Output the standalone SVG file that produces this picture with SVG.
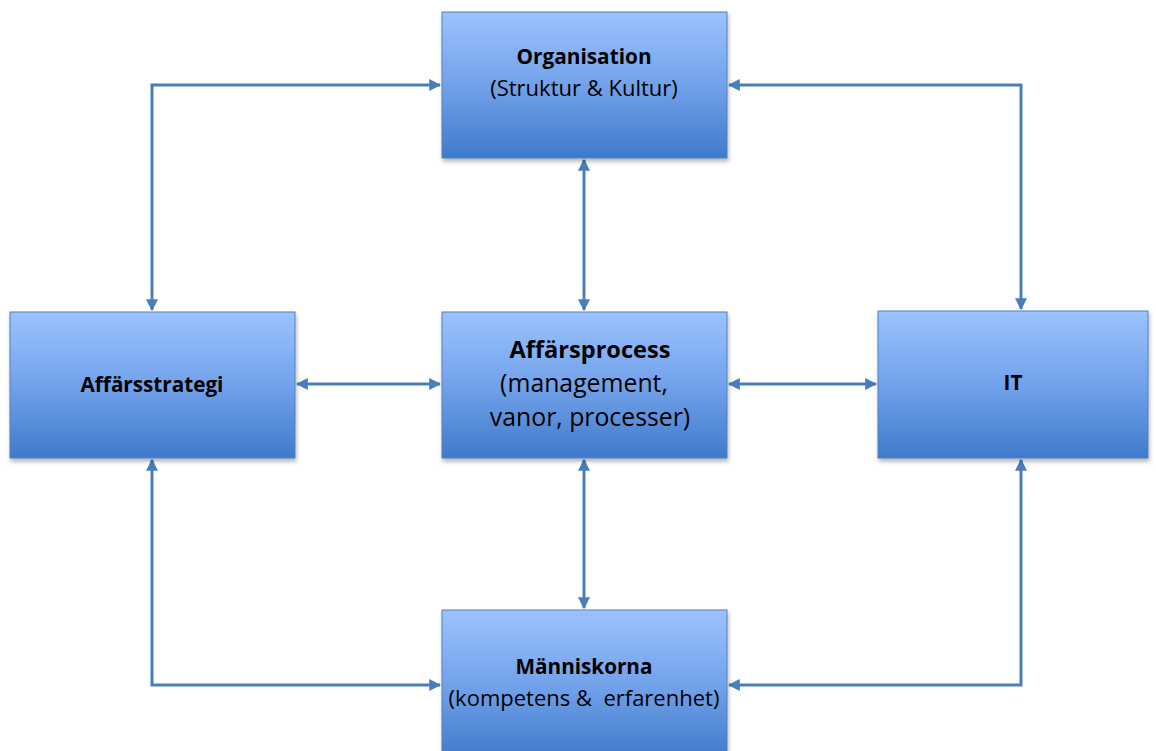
<svg xmlns="http://www.w3.org/2000/svg" width="1156" height="751" viewBox="0 0 1156 751">
<defs>
<linearGradient id="g" x1="0" y1="0" x2="0" y2="1">
<stop offset="0" stop-color="#9cc2ff"/>
<stop offset="0.5" stop-color="#72a2ea"/>
<stop offset="1" stop-color="#3f7acb"/>
</linearGradient>
<filter id="sh" x="-10%" y="-10%" width="120%" height="130%">
<feDropShadow dx="1" dy="3" stdDeviation="2" flood-color="#000" flood-opacity="0.3"/>
</filter>
<marker id="ah" viewBox="0 0 10 10" refX="9" refY="5" markerWidth="4" markerHeight="4" orient="auto-start-reverse" markerUnits="strokeWidth">
<path d="M0,0 L10,5 L0,10 z" fill="#4a7ebb"/>
</marker>
</defs>
<style>
.box{fill:url(#g);stroke:#4f81bd;stroke-width:1;filter:url(#sh)}
.t{font-family:"Open Sans","Liberation Sans",sans-serif;fill:#000;text-anchor:middle}
.b{font-weight:bold}
.c{fill:none;stroke:#4a7ebb;stroke-width:3;marker-start:url(#ah);marker-end:url(#ah)}
</style>
<g id="connectors">
<path class="c" d="M152,310 V85 H440"/>
<path class="c" d="M729,85 H1021 V309"/>
<path class="c" d="M584,160 V310"/>
<path class="c" d="M297,384 H440"/>
<path class="c" d="M729,384 H876"/>
<path class="c" d="M584,460 V608"/>
<path class="c" d="M152,460 V685 H440"/>
<path class="c" d="M1021,460 V685 H729"/>
</g>
<g id="organisation">
<rect class="box" x="442" y="12" width="285" height="146"/>
<text class="t b" x="584" y="64" font-size="20.8">Organisation</text>
<text class="t" x="584" y="96" font-size="22">(Struktur &amp; Kultur)</text>
</g>
<g id="affarsstrategi">
<rect class="box" x="10" y="312" width="285" height="146"/>
<text class="t b" x="152" y="392" font-size="20.7">Affärsstrategi</text>
</g>
<g id="affarsprocess">
<rect class="box" x="442" y="312" width="285" height="146"/>
<text class="t b" x="590" y="358" font-size="23.6">Affärsprocess</text>
<text class="t" x="584" y="392" font-size="24.8">(management,</text>
<text class="t" x="590" y="426" font-size="24.8">vanor, processer)</text>
</g>
<g id="it">
<rect class="box" x="878" y="311" width="270" height="147"/>
<text class="t b" x="1013" y="390" font-size="20.7">IT</text>
</g>
<g id="manniskorna">
<rect class="box" x="442" y="610" width="285" height="150"/>
<text class="t b" x="584" y="674" font-size="20.7">Människorna</text>
<text class="t" x="584" y="706" font-size="22" xml:space="preserve">(kompetens &amp;  erfarenhet)</text>
</g>
</svg>
